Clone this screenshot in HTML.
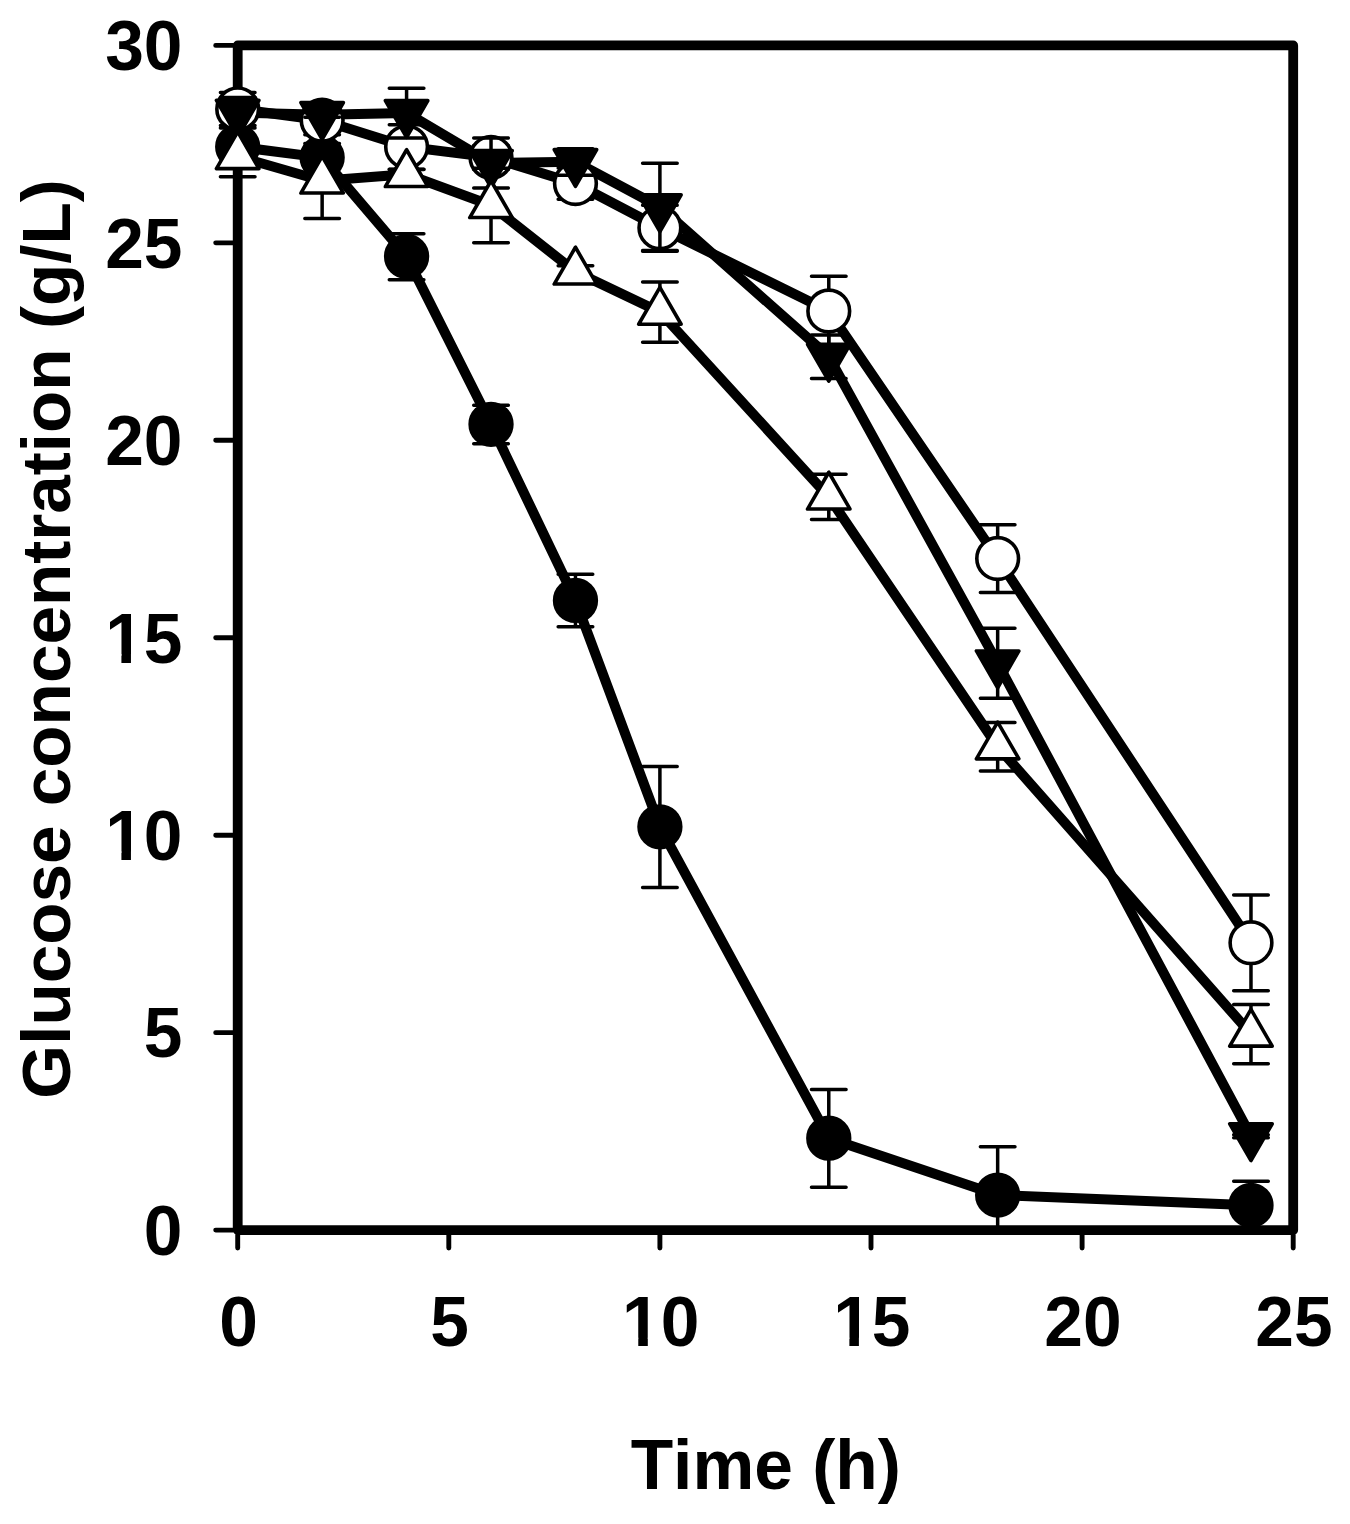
<!DOCTYPE html>
<html lang="en">
<head>
<meta charset="utf-8">
<title>Glucose concentration vs time</title>
<style>
html,body{margin:0;padding:0;background:#fff;}
body{width:1350px;height:1524px;overflow:hidden;}
svg{display:block;}
text{font-family:"Liberation Sans",sans-serif;font-weight:bold;font-size:69.5px;fill:#000;font-kerning:none;}
.yl{text-anchor:end;}
.xl,.xt,.yt{text-anchor:middle;}
.yt{font-size:69.25px;}
.frame{fill:none;stroke:#000;stroke-width:9.8;stroke-linejoin:round;}
.tick{fill:none;stroke:#000;stroke-width:4.9;stroke-linecap:round;}
.ln{fill:none;stroke:#000;stroke-width:10;stroke-linejoin:round;stroke-linecap:butt;}
.eb{fill:none;stroke:#000;stroke-width:3.5;stroke-linecap:round;}
.mk{stroke:#000;stroke-width:3.6;stroke-linejoin:round;}
.mk.f{fill:#000;}
.mk.o{fill:#fff;}
.wm{fill:#fff;stroke:none;}
</style>
</head>
<body>
<svg width="1350" height="1524" viewBox="0 0 1350 1524">
<defs><clipPath id="plotclip"><rect x="0" y="0" width="1350" height="1235"/></clipPath></defs>
<rect x="0" y="0" width="1350" height="1524" fill="#fff"/>
<g class="axes">
<rect class="frame" x="237.7" y="45.4" width="1055.5" height="1184.7"/>
<path class="tick" d="M232.8,1230.1H215.7M232.8,1032.65H215.7M232.8,835.2H215.7M232.8,637.75H215.7M232.8,440.3H215.7M232.8,242.85H215.7M232.8,45.4H215.7M237.7,1235V1248.1M448.8,1235V1248.1M659.9,1235V1248.1M871,1235V1248.1M1082.1,1235V1248.1M1293.2,1235V1248.1"/>
</g>
<g class="data" clip-path="url(#plotclip)">
<g class="lines">
<polyline class="ln" points="237.7,146.8 322.14,157.6 406.58,256.5 491.02,424.3 575.46,600.4 659.9,826.8 828.78,1138.2 997.66,1195.1 1250.98,1205.3"/>
<polyline class="ln" points="237.7,108.9 322.14,120.2 406.58,146.8 491.02,157.4 575.46,183.5 659.9,227.8 828.78,311 997.66,558.5 1250.98,942.7"/>
<polyline class="ln" points="237.7,112.6 322.14,114.8 406.58,112.9 491.02,162.9 575.46,161.8 659.9,207 828.78,356.6 997.66,663.2 1250.98,1136"/>
<polyline class="ln" points="237.7,156.4 322.14,180.8 406.58,174.3 491.02,205.3 575.46,271.8 659.9,312 828.78,496.8 997.66,746.6 1250.98,1033.9"/>
</g>
<g class="s-fc">
<path class="eb" d="M237.7,138.95V154.95M220.4,138.95H255M220.4,154.95H255M322.14,147.75V167.75M304.84,147.75H339.44M304.84,167.75H339.44M406.58,233.65V279.65M389.28,233.65H423.88M389.28,279.65H423.88M491.02,405.15V443.75M473.72,405.15H508.32M473.72,443.75H508.32M575.46,574.35V626.75M558.16,574.35H592.76M558.16,626.75H592.76M659.9,766.45V887.45M642.6,766.45H677.2M642.6,887.45H677.2M828.78,1089.55V1187.15M811.48,1089.55H846.08M811.48,1187.15H846.08M997.66,1146.85V1243.65M980.36,1146.85H1014.96M980.36,1243.65H1014.96M1250.98,1181.35V1229.55M1233.68,1181.35H1268.28M1233.68,1229.55H1268.28"/>
<circle class="mk f" cx="237.7" cy="146.8" r="20.85"/>
<circle class="mk f" cx="322.14" cy="157.6" r="20.85"/>
<circle class="mk f" cx="406.58" cy="256.5" r="20.85"/>
<circle class="mk f" cx="491.02" cy="424.3" r="20.85"/>
<circle class="mk f" cx="575.46" cy="600.4" r="20.85"/>
<circle class="mk f" cx="659.9" cy="826.8" r="20.85"/>
<circle class="mk f" cx="828.78" cy="1138.2" r="20.85"/>
<circle class="mk f" cx="997.66" cy="1195.1" r="20.85"/>
<circle class="mk f" cx="1250.98" cy="1205.3" r="20.85"/>
</g>
<g class="s-oc">
<path class="eb" d="M237.7,92.55V125.55M220.4,92.55H255M220.4,125.55H255M322.14,106.05V134.65M304.84,106.05H339.44M304.84,134.65H339.44M406.58,124.75V169.15M389.28,124.75H423.88M389.28,169.15H423.88M491.02,145.55V169.55M473.72,145.55H508.32M473.72,169.55H508.32M575.46,167.95V199.35M558.16,167.95H592.76M558.16,199.35H592.76M659.9,205.35V250.55M642.6,205.35H677.2M642.6,250.55H677.2M828.78,276.15V346.15M811.48,276.15H846.08M811.48,346.15H846.08M997.66,524.75V592.55M980.36,524.75H1014.96M980.36,592.55H1014.96M1250.98,895.05V990.65M1233.68,895.05H1268.28M1233.68,990.65H1268.28"/>
<circle class="mk o" cx="237.7" cy="108.9" r="20.85"/>
<circle class="mk o" cx="322.14" cy="120.2" r="20.85"/>
<circle class="mk o" cx="406.58" cy="146.8" r="20.85"/>
<circle class="mk o" cx="491.02" cy="157.4" r="20.85"/>
<circle class="mk o" cx="575.46" cy="183.5" r="20.85"/>
<circle class="mk o" cx="659.9" cy="227.8" r="20.85"/>
<circle class="mk o" cx="828.78" cy="311" r="20.85"/>
<circle class="mk o" cx="997.66" cy="558.5" r="20.85"/>
<circle class="mk o" cx="1250.98" cy="942.7" r="20.85"/>
</g>
<g class="s-ft">
<path class="eb" d="M237.7,97.55V127.95M220.4,97.55H255M220.4,127.95H255M322.14,112.65V117.25M304.84,112.65H339.44M304.84,117.25H339.44M406.58,88.15V137.95M389.28,88.15H423.88M389.28,137.95H423.88M491.02,138.05V188.05M473.72,138.05H508.32M473.72,188.05H508.32M575.46,148.75V175.15M558.16,148.75H592.76M558.16,175.15H592.76M659.9,163.15V251.15M642.6,163.15H677.2M642.6,251.15H677.2M828.78,335.05V378.45M811.48,335.05H846.08M811.48,378.45H846.08M997.66,628.35V698.35M980.36,628.35H1014.96M980.36,698.35H1014.96M1250.98,1134.65V1137.65M1233.68,1134.65H1268.28M1233.68,1137.65H1268.28"/>
<polygon class="mk f" points="216.45,100.33 258.95,100.33 237.7,137.14"/>
<polygon class="mk f" points="300.89,102.53 343.39,102.53 322.14,139.34"/>
<polygon class="mk f" points="385.33,100.63 427.83,100.63 406.58,137.44"/>
<polygon class="mk f" points="469.77,150.63 512.27,150.63 491.02,187.44"/>
<polygon class="mk f" points="554.21,149.53 596.71,149.53 575.46,186.34"/>
<polygon class="mk f" points="638.65,194.73 681.15,194.73 659.9,231.54"/>
<polygon class="mk f" points="807.53,344.33 850.03,344.33 828.78,381.14"/>
<polygon class="mk f" points="976.41,650.93 1018.91,650.93 997.66,687.74"/>
<polygon class="mk f" points="1229.73,1123.73 1272.23,1123.73 1250.98,1160.54"/>
</g>
<g class="s-ot">
<path class="eb" d="M237.7,136.25V176.85M220.4,136.25H255M220.4,176.85H255M322.14,143.45V218.45M304.84,143.45H339.44M304.84,218.45H339.44M406.58,169.45V179.45M389.28,169.45H423.88M389.28,179.45H423.88M491.02,168.25V242.65M473.72,168.25H508.32M473.72,242.65H508.32M575.46,265.85V278.05M558.16,265.85H592.76M558.16,278.05H592.76M659.9,281.95V342.35M642.6,281.95H677.2M642.6,342.35H677.2M828.78,474.35V519.55M811.48,474.35H846.08M811.48,519.55H846.08M997.66,722.55V770.95M980.36,722.55H1014.96M980.36,770.95H1014.96M1250.98,1004.45V1063.65M1233.68,1004.45H1268.28M1233.68,1063.65H1268.28"/>
<polygon class="mk o" points="216.45,168.67 258.95,168.67 237.7,131.86"/>
<polygon class="mk o" points="300.89,193.07 343.39,193.07 322.14,156.26"/>
<polygon class="mk o" points="385.33,186.57 427.83,186.57 406.58,149.76"/>
<polygon class="mk o" points="469.77,217.57 512.27,217.57 491.02,180.76"/>
<polygon class="mk o" points="554.21,284.07 596.71,284.07 575.46,247.26"/>
<polygon class="mk o" points="638.65,324.27 681.15,324.27 659.9,287.46"/>
<polygon class="mk o" points="807.53,509.07 850.03,509.07 828.78,472.26"/>
<polygon class="mk o" points="976.41,758.87 1018.91,758.87 997.66,722.06"/>
<polygon class="mk o" points="1229.73,1046.17 1272.23,1046.17 1250.98,1009.36"/>
</g>
</g>
<g class="labels">
<text class="yl" x="182.5" y="1254.9">0</text>
<text class="yl" x="182.5" y="1057.45">5</text>
<text class="yl" x="182.5" y="860">10</text>
<text class="yl" x="182.5" y="662.55">15</text>
<text class="yl" x="182.5" y="465.1">20</text>
<text class="yl" x="182.5" y="267.65">25</text>
<text class="yl" x="182.5" y="70.2">30</text>
<text class="xl" x="238.5" y="1346.3">0</text>
<text class="xl" x="449.6" y="1346.3">5</text>
<text class="xl" x="660.7" y="1346.3">10</text>
<text class="xl" x="871.8" y="1346.3">15</text>
<text class="xl" x="1082.9" y="1346.3">20</text>
<text class="xl" x="1294" y="1346.3">25</text>
<rect class="wm" x="108.37" y="851.41" width="13.04" height="9.79"/><rect class="wm" x="130.95" y="851.41" width="12.16" height="9.79"/>
<rect class="wm" x="625.23" y="1337.71" width="13.04" height="9.79"/><rect class="wm" x="647.8" y="1337.71" width="12.16" height="9.79"/>
<rect class="wm" x="108.37" y="653.96" width="13.04" height="9.79"/><rect class="wm" x="130.95" y="653.96" width="12.16" height="9.79"/>
<rect class="wm" x="836.33" y="1337.71" width="13.04" height="9.79"/><rect class="wm" x="858.9" y="1337.71" width="12.16" height="9.79"/>
<text class="xt" x="765.8" y="1488.5">Time (h)</text>
<text class="yt" transform="translate(70,638.9) rotate(-90)">Glucose concentration (g/L)</text>
</g>
</svg>
</body>
</html>
